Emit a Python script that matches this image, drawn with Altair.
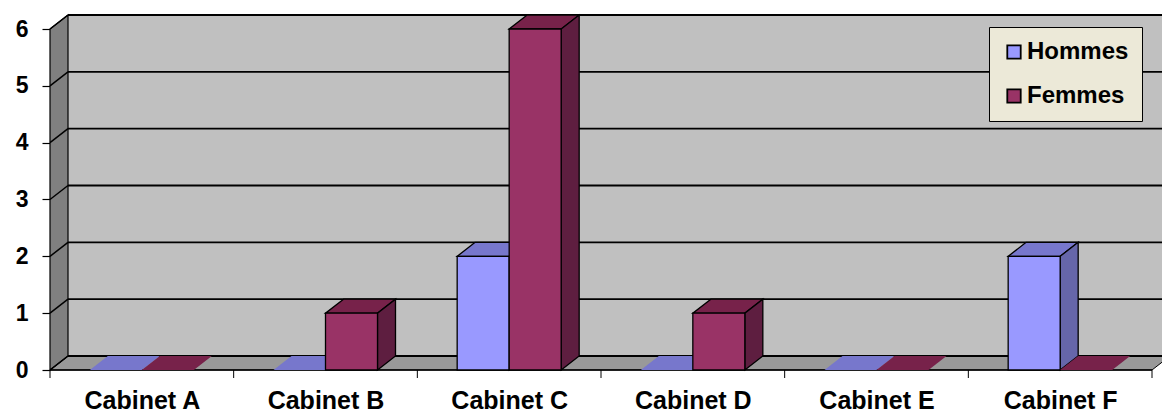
import json
import altair as alt
import pandas as pd

# ---------------- data ----------------
CATEGORIES = ["Cabinet A", "Cabinet B", "Cabinet C", "Cabinet D", "Cabinet E", "Cabinet F"]
SERIES = ["Hommes", "Femmes"]
HOMMES = [0, 0, 2, 0, 0, 2]
FEMMES = [0, 1, 6, 1, 0, 0]
Y_TICKS = [0, 1, 2, 3, 4, 5, 6]

# ---------------- styling / geometry constants ----------------
FONT = "Liberation Sans"
FRONT = {"Hommes": "#9999FF", "Femmes": "#993366"}
TOP = {"Hommes": "#7777CC", "Femmes": "#77224A"}
SIDE = {"Hommes": "#6666AA", "Femmes": "#5E1E40"}
W, H = 1112, 370
PX_X = 1102 / len(CATEGORIES)           # pixels per category
PX_Y = (370 - 29) / 6                   # pixels per unit
X_MAX = W / PX_X
Y_MAX = H / PX_Y
DX = 18 / PX_X                          # 3D depth (x)
DY = 14 / PX_Y                          # 3D depth (y)
BW = 52 / PX_X                          # bar width
YMAXV = max(Y_TICKS)
NCAT = len(CATEGORIES)

xs = alt.Scale(domain=[0, X_MAX], nice=False, zero=False)
ys = alt.Scale(domain=[0, Y_MAX], nice=False, zero=False)
X_AXIS = alt.Axis(
    title=None, values=[i + 0.5 for i in range(NCAT)],
    labelExpr=json.dumps(CATEGORIES) + "[floor(datum.value)]",
    ticks=False, domain=False, grid=False, labelFont=FONT, labelFontSize=25,
    labelFontWeight="bold", labelColor="black", labelPadding=18, labelFlush=False,
)
Y_AXIS = alt.Axis(
    title=None, values=Y_TICKS, format="d", tickSize=8, tickColor="black", tickWidth=1.2,
    domain=False, grid=False, labelFont=FONT, labelFontSize=23, labelFontWeight="bold",
    labelColor="black", labelPadding=14,
)


def X(f):
    return alt.X(f, type="quantitative", scale=xs, axis=X_AXIS)


def Y(f):
    return alt.Y(f, type="quantitative", scale=ys, axis=Y_AXIS)


# ---------------- walls ----------------
back = pd.DataFrame([{"x": DX, "x2": X_MAX + 1, "y": DY, "y2": YMAXV + DY}])
back_l = alt.Chart(back).mark_rect(fill="#C0C0C0").encode(
    x=X("x"), x2="x2", y=Y("y"), y2="y2")

side_wall = pd.DataFrame([{"x": 0, "y": 0, "y2": YMAXV}, {"x": DX, "y": DY, "y2": YMAXV + DY}])
side_l = alt.Chart(side_wall).mark_area(
    fill="#808080", stroke="black", strokeWidth=1.2, orient="vertical").encode(
    x=X("x"), y=Y("y"), y2="y2")

floor = pd.DataFrame([{"y": 0, "x": 0, "x2": NCAT}, {"y": DY, "x": DX, "x2": NCAT + DX}])
floor_l = alt.Chart(floor).mark_area(
    fill="#999999", stroke="black", strokeWidth=1.0, orient="horizontal").encode(
    y=Y("y"), x=X("x"), x2="x2")

grid_back = pd.DataFrame([{"y": k + DY, "x": DX, "x2": X_MAX + 1} for k in Y_TICKS])
grid_back_l = alt.Chart(grid_back).mark_rule(color="black", strokeWidth=1.8).encode(
    x=X("x"), x2="x2", y=Y("y"))

grid_side = pd.DataFrame(
    [{"k": k, "x": 0, "y": k} for k in Y_TICKS] + [{"k": k, "x": DX, "y": k + DY} for k in Y_TICKS])
grid_side_l = alt.Chart(grid_side).mark_line(color="black", strokeWidth=1.5).encode(
    x=X("x"), y=Y("y"), detail="k:N")

front_edge = pd.DataFrame([{"x": 0, "x2": NCAT, "y": 0}])
front_edge_l = alt.Chart(front_edge).mark_rule(color="black", strokeWidth=1.5).encode(
    x=X("x"), x2="x2", y=Y("y"))

cat_ticks = pd.DataFrame({"b": list(range(NCAT + 1))})
cat_ticks_l = alt.Chart(cat_ticks).mark_rule(color="black", strokeWidth=1).encode(
    x=X("b"), y=alt.value(H), y2=alt.value(H + 8))

layers = [back_l, floor_l, side_l, grid_back_l, grid_side_l, front_edge_l, cat_ticks_l]

# ---------------- bars ----------------
for s, vals in zip(SERIES, [HOMMES, FEMMES]):
    tops, sides, fronts = [], [], []
    for i, (cat, v) in enumerate(zip(CATEGORIES, vals)):
        c = i + 0.5
        x0, x1 = (c - BW, c) if s == SERIES[0] else (c, c + BW)
        sw = 1.3 if v > 0 else 0
        tops.append({"cat": cat, "y": v, "xa": x0, "xb": x1, "sw": sw})
        tops.append({"cat": cat, "y": v + DY, "xa": x0 + DX, "xb": x1 + DX, "sw": sw})
        if v > 0:
            sides.append({"cat": cat, "x": x1, "y": 0, "y2": v})
            sides.append({"cat": cat, "x": x1 + DX, "y": DY, "y2": v + DY})
            fronts.append({"cat": cat, "series": s, "x0": x0, "x1": x1, "base": 0, "v": v})
    top_l = alt.Chart(pd.DataFrame(tops)).mark_area(
        fill=TOP[s], stroke="black", orient="horizontal").encode(
        y=Y("y"), x=X("xa"), x2="xb", detail="cat:N",
        strokeWidth=alt.StrokeWidth("sw:Q", scale=None))
    layers.append(top_l)
    if sides:
        side_b = alt.Chart(pd.DataFrame(sides)).mark_area(
            fill=SIDE[s], stroke="black", strokeWidth=1.3, orient="vertical").encode(
            x=X("x"), y=Y("y"), y2="y2", detail="cat:N")
        front_b = alt.Chart(pd.DataFrame(fronts)).mark_rect(
            stroke="black", strokeWidth=1.3, opacity=1).encode(
            x=X("x0"), x2="x1", y=Y("base"), y2="v",
            color=alt.Color("series:N",
                            scale=alt.Scale(domain=SERIES, range=[FRONT[k] for k in SERIES]),
                            legend=alt.Legend(
                                title=None, orient="none", legendX=939, legendY=27,
                                fillColor="#ECE9D8", strokeColor="black", padding=13,
                                symbolType="square", symbolSize=180,
                                symbolStrokeColor="black", symbolStrokeWidth=1.8,
                                symbolOpacity=1,
                                labelFont=FONT, labelFontSize=24, labelFontWeight="bold",
                                labelColor="black", labelOffset=1, rowPadding=20)))
        layers += [side_b, front_b]

chart = alt.layer(*layers).properties(
    width=W, height=H,
    autosize=alt.AutoSizeParams(type="none"),
    padding={"left": 50, "top": 0, "right": 0, "bottom": 42},
    background="white",
).configure_view(strokeWidth=0)

chart.save("out.html", embed_options={"renderer": "svg", "actions": False})
